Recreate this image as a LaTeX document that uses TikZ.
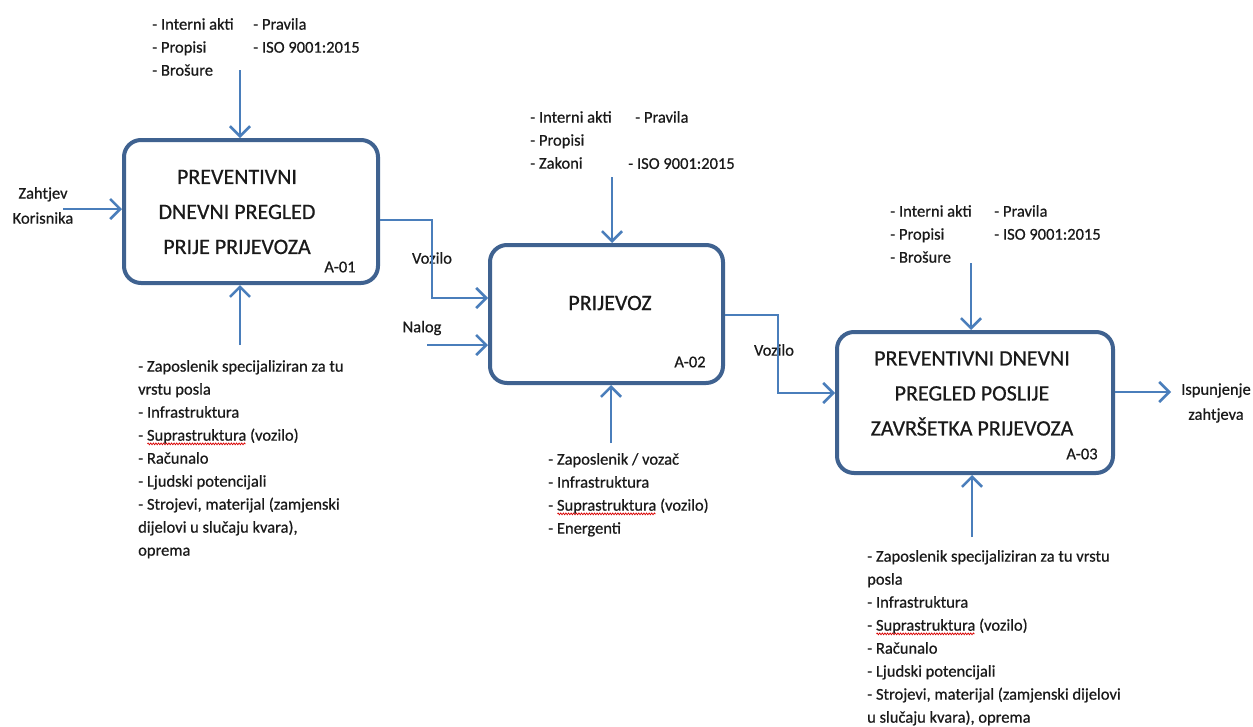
\documentclass[tikz,border=0pt]{standalone}
\usepackage{fontspec}
\setmainfont{Carlito}[FakeBold=0.6]
\usetikzlibrary{arrows.meta,decorations.pathmorphing}
\definecolor{arrowblue}{HTML}{4A7EBB}
\definecolor{boxblue}{HTML}{3F6290}
\definecolor{txt}{HTML}{1A1A1A}
\newsavebox{\spellbox}
\newcommand{\spellmark}[1]{\sbox{\spellbox}{#1}\tikz[overlay,baseline=0pt,x=1pt,y=1pt]{\draw[red!85!black, line width=0.7pt, decorate, decoration={zigzag, segment length=2.6pt, amplitude=0.9pt}] (0.5,-3.2) -- (\wd\spellbox-0.5pt,-3.2);}\usebox{\spellbox}}
\tikzset{
  procbox/.style={draw=boxblue, line width=4pt, rounded corners=17pt, fill=white, inner sep=0pt},
  titletext/.style={text=txt, align=center, font=\fontsize{22}{35}\selectfont, inner sep=0pt},
  smalltext/.style={text=txt, align=left, font=\fontsize{16.5}{23}\selectfont, inner sep=0pt, anchor=north west},
  labeltext/.style={text=txt, align=center, font=\fontsize{16.5}{25}\selectfont, inner sep=0pt},
  arr/.style={draw=arrowblue, line width=2.6pt, -{Straight Barb[length=10pt,width=20pt,line width=2.6pt]}}
}
\begin{document}
\begin{tikzpicture}[x=1pt,y=-1pt]
\useasboundingbox (0,0) rectangle (1253,726);
\fill[white] (0,0) rectangle (1253,726);

% boxes
\node[procbox, minimum width=254pt, minimum height=143pt] (b1) at (251,211.5) {};
\node[procbox, minimum width=233pt, minimum height=138pt] (b2) at (606.5,314) {};
\node[procbox, minimum width=276pt, minimum height=141pt] (b3) at (975,402.5) {};

% titles
\node[titletext] (t1txt) at (237,212) {PREVENTIVNI\\DNEVNI PREGLED\\PRIJE PRIJEVOZA};
\node[titletext] (t2txt) at (610,303) {PRIJEVOZ};
\node[titletext] (t3txt) at (972,393.5) {PREVENTIVNI DNEVNI\\PREGLED POSLIJE\\ZAVRŠETKA PRIJEVOZA};

% ids
\node[labeltext] (id1) at (340,267) {A-01};
\node[labeltext] (id2) at (690,362) {A-02};
\node[labeltext] (id3) at (1082,454) {A-03};

% box 1 texts
\node[smalltext] (c1a) at (152,18) {- Interni akti\\- Propisi\\- Brošure};
\node[smalltext] (c1b) at (253,18) {- Pravila\\- ISO 9001:2015};
\node[smalltext] (m1) at (138,360) {- Zaposlenik specijaliziran za tu\\vrstu posla\\- Infrastruktura\\- \spellmark{Suprastruktura} (vozilo)\\- Računalo\\- Ljudski potencijali\\- Strojevi, materijal (zamjenski\\dijelovi u slučaju kvara),\\oprema};
\node[labeltext] (in1) at (43,205.5) {Zahtjev\\Korisnika};

% box 2 texts
\node[smalltext] (c2a) at (530,111) {- Interni akti\\- Propisi\\- Zakoni};
\node[smalltext] (c2b) at (635,111) {- Pravila};
\node[smalltext] (c2c) at (628,158) {- ISO 9001:2015};
\node[smalltext] (m2) at (548,453) {- Zaposlenik / vozač\\- Infrastruktura\\- \spellmark{Suprastruktura} (vozilo)\\- Energenti};
\node[labeltext] (vz1) at (432,258) {Vozilo};
\node[labeltext] (nl) at (422,328) {Nalog};

% box 3 texts
\node[smalltext] (c3a) at (890,205) {- Interni akti\\- Propisi\\- Brošure};
\node[smalltext] (c3b) at (994,205) {- Pravila\\- ISO 9001:2015};
\node[smalltext] (m3) at (867,550) {- Zaposlenik specijaliziran za tu vrstu\\posla\\- Infrastruktura\\- \spellmark{Suprastruktura} (vozilo)\\- Računalo\\- Ljudski potencijali\\- Strojevi, materijal (zamjenski dijelovi\\u slučaju kvara), oprema};
\node[labeltext] (vz2) at (774,350) {Vozilo};
\node[labeltext] (out) at (1216,403) {Ispunjenje\\zahtjeva};

% free ends
\coordinate (z0) at (63,209);
\coordinate (p1) at (240,70);
\coordinate (q1) at (240,345);
\coordinate (v1) at (432,298);
\coordinate (n0) at (427,345);
\coordinate (p2) at (612,177);
\coordinate (q2) at (611,443);
\coordinate (v2) at (778,393);
\coordinate (p3) at (971,263);
\coordinate (q3) at (972,537);
\coordinate (o3) at (1171,392);

% connectors
\draw[arr] (z0) -- (z0 -| b1.west);
\draw[arr] (p1) -- (p1 |- b1.north);
\draw[arr] (q1) -- (q1 |- b1.south);
\draw[arr] (b1.east |- 0,220) -| (v1) -- (v1 -| b2.west);
\draw[arr] (n0) -- (n0 -| b2.west);
\draw[arr] (p2) -- (p2 |- b2.north);
\draw[arr] (q2) -- (q2 |- b2.south);
\draw[arr] (b2.east |- 0,315) -| (v2) -- (v2 -| b3.west);
\draw[arr] (p3) -- (p3 |- b3.north);
\draw[arr] (q3) -- (q3 |- b3.south);
\draw[arr] (b3.east |- 0,392) -- (o3);
\end{tikzpicture}
\end{document}
